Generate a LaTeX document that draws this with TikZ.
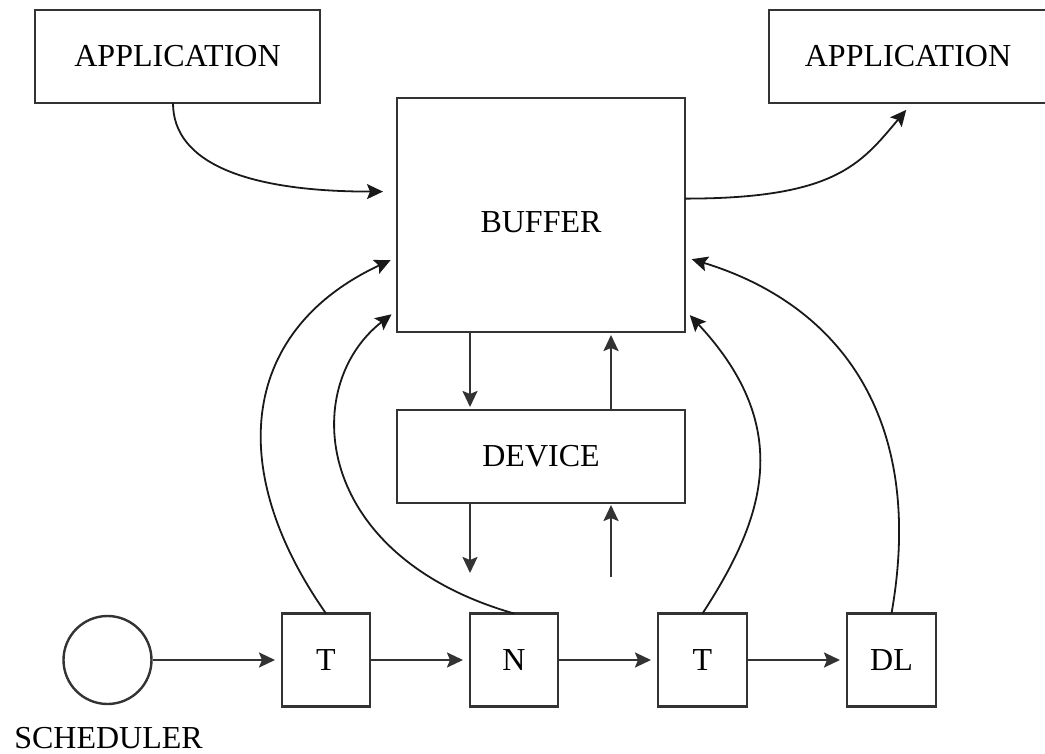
\documentclass[tikz,border=0pt]{standalone}
\usepackage{fontspec}
\setmainfont{Liberation Serif}
\usetikzlibrary{arrows.meta,calc}
\begin{document}
\begin{tikzpicture}[x=0.5pt,y=-0.5pt,
  every node/.style={font=\fontsize{16}{19}\selectfont},
  box/.style={draw=black!80,line width=1.4pt,inner sep=0pt,outer sep=0pt,minimum height=46.5pt},
  sqbox/.style={box,minimum width=44pt},
  arrowtip/.tip={Stealth[length=8pt,width=7.5pt,inset=1.5pt]},
  flow/.style={draw=black!80,line width=1.2pt,-arrowtip,shorten >=3.5pt},
  feedback/.style={draw=black!90,line width=0.9pt,-arrowtip,shorten >=3.5pt}]
\useasboundingbox (0,0) rectangle (1045,754);

% top row: producers/consumers and the shared buffer
\node[box,minimum width=142.5pt] (app1) at (177.5,56.5) {APPLICATION};
\node[box,minimum width=139pt] (app2) at (908,56.5) {APPLICATION};
\node[box,minimum width=144pt,minimum height=117pt,text height=17.6pt] (buf) at (541,215) {BUFFER};
\node[box,minimum width=144pt] (dev) at (541,456.5) {DEVICE};

% bottom row: scheduler and processing stages
\node[draw=black!80,line width=1.2pt,circle,minimum size=44pt,inner sep=0pt] (sched) at (107.5,660) {};
\node (schedlbl) at (108.5,738) {SCHEDULER};
\node[sqbox] (t1) at (326,660) {T};
\node[sqbox] (n) at (514,660) {N};
\node[sqbox,minimum width=44.5pt] (t2) at (702.5,660) {T};
\node[sqbox,minimum width=44.5pt] (dl) at (891.5,660) {DL};

% columns of the vertical data paths
\coordinate (downx) at (470,0);
\coordinate (upx) at (611,0);
\coordinate (outend) at (470,573);
\coordinate (inend) at (611,577);

% pipeline
\draw[flow] (sched) -- (t1);
\draw[flow] (t1) -- (n);
\draw[flow] (n) -- (t2);
\draw[flow] (t2) -- (dl);

% buffer <-> device <-> outside
\draw[flow,shorten >=1.5pt] (downx |- buf.south) -- (downx |- dev.north);
\draw[flow,shorten >=1.5pt] (upx |- dev.north) -- (upx |- buf.south);
\draw[flow,shorten >=0pt] (downx |- dev.south) -- (outend);
\draw[flow,shorten >=1pt] (inend) -- (upx |- dev.south);

% application traffic
\draw[feedback,shorten >=7pt] ($(app1.south)+(-4.5,0)$) to[out=-90,in=180,out distance=30pt,in distance=75pt] ($(buf.north west)!0.4!(buf.south west)$);
\draw[feedback,shorten >=4.5pt] ($(buf.north east)!0.43!(buf.south east)$) to[out=0,in=230,out distance=75pt,in distance=40pt] ($(app2.south)+(4,0)$);

% stages updating the buffer
\draw[feedback] (t1.north) to[out=125,in=205,out distance=90pt,in distance=85pt] ($(buf.north west)!0.68!(buf.south west)$);
\draw[feedback] (n.north) to[out=164,in=218,out distance=105pt,in distance=62pt] ($(buf.north west)!0.906!(buf.south west)$);
\draw[feedback] (t2.north) to[out=57,in=-47,out distance=55pt,in distance=82pt] ($(buf.north east)!0.906!(buf.south east)$);
\draw[feedback] (dl.north) to[out=80,in=-17,out distance=100pt,in distance=80pt] ($(buf.north east)!0.68!(buf.south east)$);
\end{tikzpicture}
\end{document}
